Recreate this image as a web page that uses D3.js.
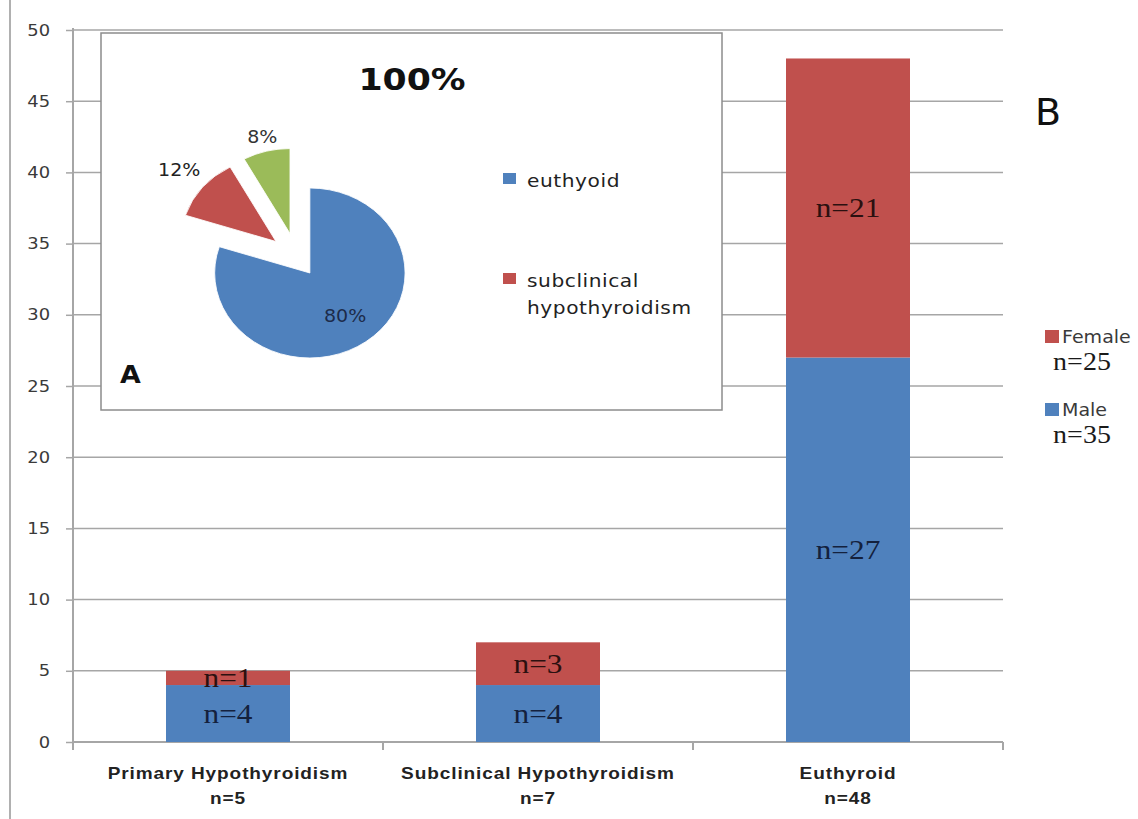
<!DOCTYPE html>
<html>
<head>
<meta charset="utf-8">
<script src="https://cdn.jsdelivr.net/npm/d3@7"></script>
<style>
  html, body { margin: 0; padding: 0; background: #fff; }
  svg { display: block; }
</style>
</head>
<body>
<svg id="chart" width="1138" height="819"></svg>
<script>
// ---- data ----
const categories = ["Primary Hypothyroidism", "Subclinical  Hypothyroidism", "Euthyroid"];
const categoryTotals = ["n=5", "n=7", "n=48"];
const maleValues = [4, 4, 27];
const femaleValues = [1, 3, 21];
const seriesNames = ["Male", "Female"];
const seriesTotals = ["n=35", "n=25"];
const yTicks = [0, 5, 10, 15, 20, 25, 30, 35, 40, 45, 50];

const pieNames = ["euthyoid", "subclinical hypothyroidism", "primary hypothyroidism"];
const pieValues = [80, 12, 8];
const pieLegendLines = [["euthyoid"], ["subclinical", "hypothyroidism"]];

// ---- styling ----
const BLUE = "#4f81bd", RED = "#c0504d", GREEN = "#9bbb59";
const GRID = "#a6a6a6";
const SX = 1.12; // horizontal stretch applied to text and the pie

const svg = d3.select("#chart");

function stretchedText(parent, x, y, str) {
  return parent.append("text")
    .attr("transform", `translate(${x},${y}) scale(${SX},1)`)
    .text(str);
}

// ---- scales ----
const plot = { left: 73, right: 1003, top: 30, bottom: 742 };
const y = d3.scaleLinear().domain([0, 50]).range([plot.bottom, plot.top]);
const x = d3.scaleBand().domain(categories).range([plot.left, plot.right]).padding(0);
const barFrac = 0.4;
const barW = x.bandwidth() * barFrac;

// outer frame line on the left
svg.append("line")
  .attr("x1", 10).attr("x2", 10).attr("y1", 0).attr("y2", 819)
  .attr("stroke", "#b0b0b0").attr("stroke-width", 2);

// ---- gridlines ----
svg.append("g").selectAll("line")
  .data(yTicks.filter(d => d > 0))
  .join("line")
  .attr("x1", plot.left).attr("x2", plot.right)
  .attr("y1", d => y(d)).attr("y2", d => y(d))
  .attr("stroke", GRID).attr("stroke-width", 1.5);

// ---- y axis ----
const yAxis = svg.append("g")
  .attr("transform", `translate(${plot.left},0)`)
  .call(d3.axisLeft(y).tickValues(yTicks).tickSize(7).tickPadding(13.5).tickFormat(d3.format("d")));
yAxis.select(".domain").remove();
yAxis.selectAll(".tick line").attr("stroke", GRID).attr("stroke-width", 1.5);
yAxis.selectAll(".tick text")
  .attr("font-family", "DejaVu Sans, sans-serif")
  .attr("font-size", 16)
  .attr("fill", "#3a3a3a")
  .attr("transform", `scale(${SX},1)`);
svg.append("line")
  .attr("x1", plot.left).attr("x2", plot.left)
  .attr("y1", plot.top - 2).attr("y2", plot.bottom + 8)
  .attr("stroke", GRID).attr("stroke-width", 2);

// ---- x axis ----
svg.append("line")
  .attr("x1", plot.left).attr("x2", plot.right)
  .attr("y1", plot.bottom).attr("y2", plot.bottom)
  .attr("stroke", GRID).attr("stroke-width", 2);
const boundaries = categories.map(c => x(c)).concat([plot.right]);
svg.append("g").selectAll("line")
  .data(boundaries)
  .join("line")
  .attr("x1", d => d).attr("x2", d => d)
  .attr("y1", plot.bottom).attr("y2", plot.bottom + 8)
  .attr("stroke", GRID).attr("stroke-width", 2);

const xLab = svg.append("g")
  .attr("font-family", "Liberation Sans, Arial, sans-serif")
  .attr("font-weight", "bold")
  .attr("font-size", 17)
  .attr("letter-spacing", 0.8)
  .attr("fill", "#222")
  .attr("text-anchor", "middle");
categories.forEach((c, i) => {
  const cx = x(c) + x.bandwidth() / 2;
  stretchedText(xLab, cx, 779, c);
  stretchedText(xLab, cx, 804, categoryTotals[i]);
});

// ---- inset box (panel A) ----
const inset = { x: 101, y: 33, w: 621, h: 377 };
svg.append("rect")
  .attr("x", inset.x).attr("y", inset.y)
  .attr("width", inset.w).attr("height", inset.h)
  .attr("fill", "#fff").attr("stroke", "#8c8c8c").attr("stroke-width", 1.5);

stretchedText(svg, 412, 90, "100%")
  .attr("font-family", "DejaVu Sans, sans-serif")
  .attr("font-weight", "bold").attr("font-size", 31)
  .attr("text-anchor", "middle").attr("fill", "#111");

stretchedText(svg, 120, 383, "A")
  .attr("font-family", "DejaVu Sans, sans-serif")
  .attr("font-weight", "bold").attr("font-size", 24)
  .attr("fill", "#111");

// pie
const pieCenter = { x: 296.7, y: 256.8 };
const pieR = 85;
const explode = [20, 24, 24];
const labelDist = [0.63, 1.32, 1.17];
const pieColors = [BLUE, RED, GREEN];
const labelColors = ["#1c2b4a", "#222", "#333"];
const arcs = d3.pie().sort(null).startAngle(0).endAngle(2 * Math.PI)(pieValues);
const arcGen = d3.arc().innerRadius(0).outerRadius(pieR);

const pieG = svg.append("g");
arcs.forEach((a, i) => {
  const mid = (a.startAngle + a.endAngle) / 2;
  const ox = pieCenter.x + explode[i] * Math.sin(mid) * SX;
  const oy = pieCenter.y - explode[i] * Math.cos(mid);
  pieG.append("path")
    .attr("transform", `translate(${ox},${oy}) scale(${SX},1)`)
    .attr("d", arcGen(a))
    .attr("fill", pieColors[i])
    .attr("stroke", "#fff").attr("stroke-width", 0.8);
  const lr = labelDist[i] * pieR;
  stretchedText(pieG, ox + lr * Math.sin(mid) * SX, oy - lr * Math.cos(mid), d3.format(".0f")(a.value) + "%")
    .attr("font-family", "DejaVu Sans, sans-serif")
    .attr("font-size", 17)
    .attr("text-anchor", "middle")
    .attr("dy", "0.35em")
    .attr("fill", labelColors[i]);
});

// pie legend
const pieLeg = svg.append("g")
  .attr("font-family", "DejaVu Sans, sans-serif")
  .attr("font-size", 18)
  .attr("letter-spacing", 0.5)
  .attr("fill", "#222");
const pieLegTop = [173, 273];
pieLegendLines.forEach((lines, i) => {
  pieLeg.append("rect")
    .attr("x", 503).attr("y", pieLegTop[i])
    .attr("width", 13).attr("height", 11)
    .attr("fill", pieColors[i]);
  lines.forEach((ln, j) => stretchedText(pieLeg, 527, pieLegTop[i] + 14 + j * 27, ln));
});

// ---- stacked bars ----
const stackData = categories.map((c, i) => ({ cat: c, Male: maleValues[i], Female: femaleValues[i] }));
const series = d3.stack().keys(seriesNames)(stackData);
const barColors = { Male: BLUE, Female: RED };
const barLabelColors = { Male: "#14213d", Female: "#2b1010" };

const barsG = svg.append("g");
series.forEach(s => {
  s.forEach(d => {
    const cx = x(d.data.cat) + x.bandwidth() / 2;
    barsG.append("rect")
      .attr("x", cx - barW / 2)
      .attr("y", y(d[1]))
      .attr("width", barW)
      .attr("height", y(d[0]) - y(d[1]))
      .attr("fill", barColors[s.key]);
  });
});
series.forEach(s => {
  s.forEach(d => {
    const cx = x(d.data.cat) + x.bandwidth() / 2;
    const v = d[1] - d[0];
    const ymid = (y(d[0]) + y(d[1])) / 2;
    stretchedText(barsG, cx, ymid, "n=" + v)
      .attr("font-family", "Liberation Serif, Times New Roman, serif")
      .attr("font-size", 28)
      .attr("text-anchor", "middle")
      .attr("dy", "0.33em")
      .attr("fill", barLabelColors[s.key]);
  });
});

// ---- series legend ----
const leg = svg.append("g");
const legOrder = [1, 0]; // Female above Male
const legTop = [330, 403];
legOrder.forEach((si, k) => {
  const name = seriesNames[si];
  leg.append("rect")
    .attr("x", 1045).attr("y", legTop[k])
    .attr("width", 14).attr("height", 13)
    .attr("fill", barColors[name]);
  stretchedText(leg, 1062, legTop[k] + 13, name)
    .attr("font-family", "DejaVu Sans, sans-serif")
    .attr("font-size", 17)
    .attr("fill", "#3a3a3a");
  stretchedText(leg, 1082, legTop[k] + 40, seriesTotals[si])
    .attr("font-family", "Liberation Serif, Times New Roman, serif")
    .attr("font-size", 25)
    .attr("text-anchor", "middle")
    .attr("fill", "#1a1a1a");
});

// panel label B
svg.append("text")
  .attr("x", 1035).attr("y", 125)
  .attr("font-family", "DejaVu Sans, sans-serif")
  .attr("font-size", 38)
  .attr("fill", "#111")
  .text("B");
</script>
</body>
</html>
